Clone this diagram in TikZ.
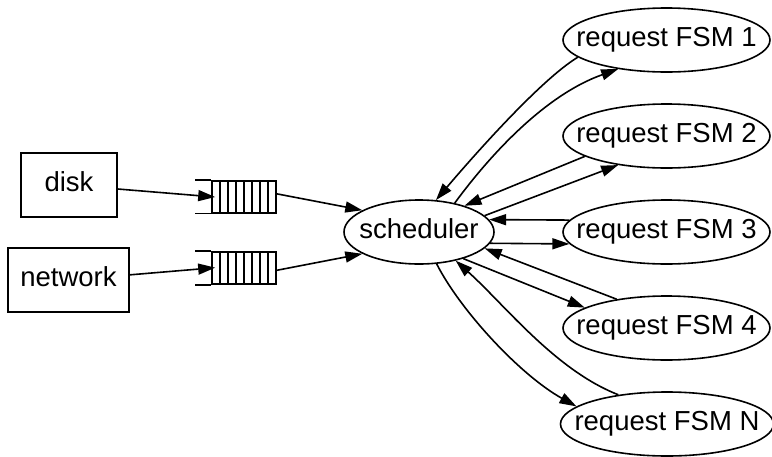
\documentclass[tikz,border=0pt]{standalone}
\usepackage{fontspec}
\setmainfont{Liberation Sans}
\usetikzlibrary{arrows.meta,shapes.geometric}
\begin{document}
\begin{tikzpicture}[x=1pt,y=-1pt,
  every node/.style={font=\fontsize{27.5}{30}\selectfont, text height=18.5pt, text depth=6pt},
  box/.style={draw, rectangle, line width=1.6pt, minimum height=64pt, inner sep=0},
  oval/.style={draw, ellipse, line width=1.6pt, minimum height=64pt, inner sep=0},
  qbox/.style={draw, rectangle, line width=1.6pt, minimum width=64pt, minimum height=32pt, inner sep=0,
    path picture={\foreach \k in {1,...,7}{\draw[line width=1.6pt] ([xshift=\k*8pt]path picture bounding box.north west) -- ([xshift=\k*8pt]path picture bounding box.south west);}}},
  edge/.style={line width=1.6pt, -{Triangle[length=17pt,width=11pt]}}
]
\useasboundingbox (0,0) rectangle (772,456);

\node[box, minimum width=96pt] (disk) at (69,185) {disk};
\node[box, minimum width=121pt] (net) at (68.5,280) {network};

\node[qbox] (q1) at (244,196.7) {};
\node[qbox] (q2) at (244,268) {};
\draw[line width=1.6pt] (q1.north west) -- ++(-16,0) (q1.south west) -- ++(-16,0);
\draw[line width=1.6pt] (q2.north west) -- ++(-16,0) (q2.south west) -- ++(-16,0);

\node[oval, minimum width=150pt, label={center:scheduler}] (sched) at (419,232) {};

\node[oval, minimum width=207pt, label={center:request FSM 1}] (f1) at (666.5,40) {};
\node[oval, minimum width=207pt, label={center:request FSM 2}] (f2) at (666.5,136) {};
\node[oval, minimum width=207pt, label={center:request FSM 3}] (f3) at (666.5,232) {};
\node[oval, minimum width=207pt, label={center:request FSM 4}] (f4) at (666.5,328) {};
\node[oval, minimum width=213pt, label={center:request FSM N}] (fN) at (667,424) {};

\draw[edge, shorten >=-4pt] (disk) -- (q1.west);
\draw[edge, shorten >=-4pt] (net) -- (q2.west);
\draw[edge] (q1.5) -- (sched.159);
\draw[edge] (q2.-4) -- (sched.201);

\draw[edge] (f1.191) .. controls (540,80) and (470,160) .. (sched.62);
\draw[edge] (sched.39) .. controls (490,155) and (545,95) .. (f1.211);
\draw[edge] (f2.194) -- (sched.30);
\draw[edge] (sched.14) -- (f2.211);
\draw[edge] (f3.173) -- (sched.10);
\draw[edge] (sched.-9) -- (f3.187);
\draw[edge] (f4.150) -- (sched.-14);
\draw[edge] (sched.-31) -- (f4.166);
\draw[edge] (sched.-61) .. controls (460,310) and (520,375) .. (fN.169);
\draw[edge] (fN.149) .. controls (555,370) and (505,305) .. (sched.-38);
\end{tikzpicture}
\end{document}
